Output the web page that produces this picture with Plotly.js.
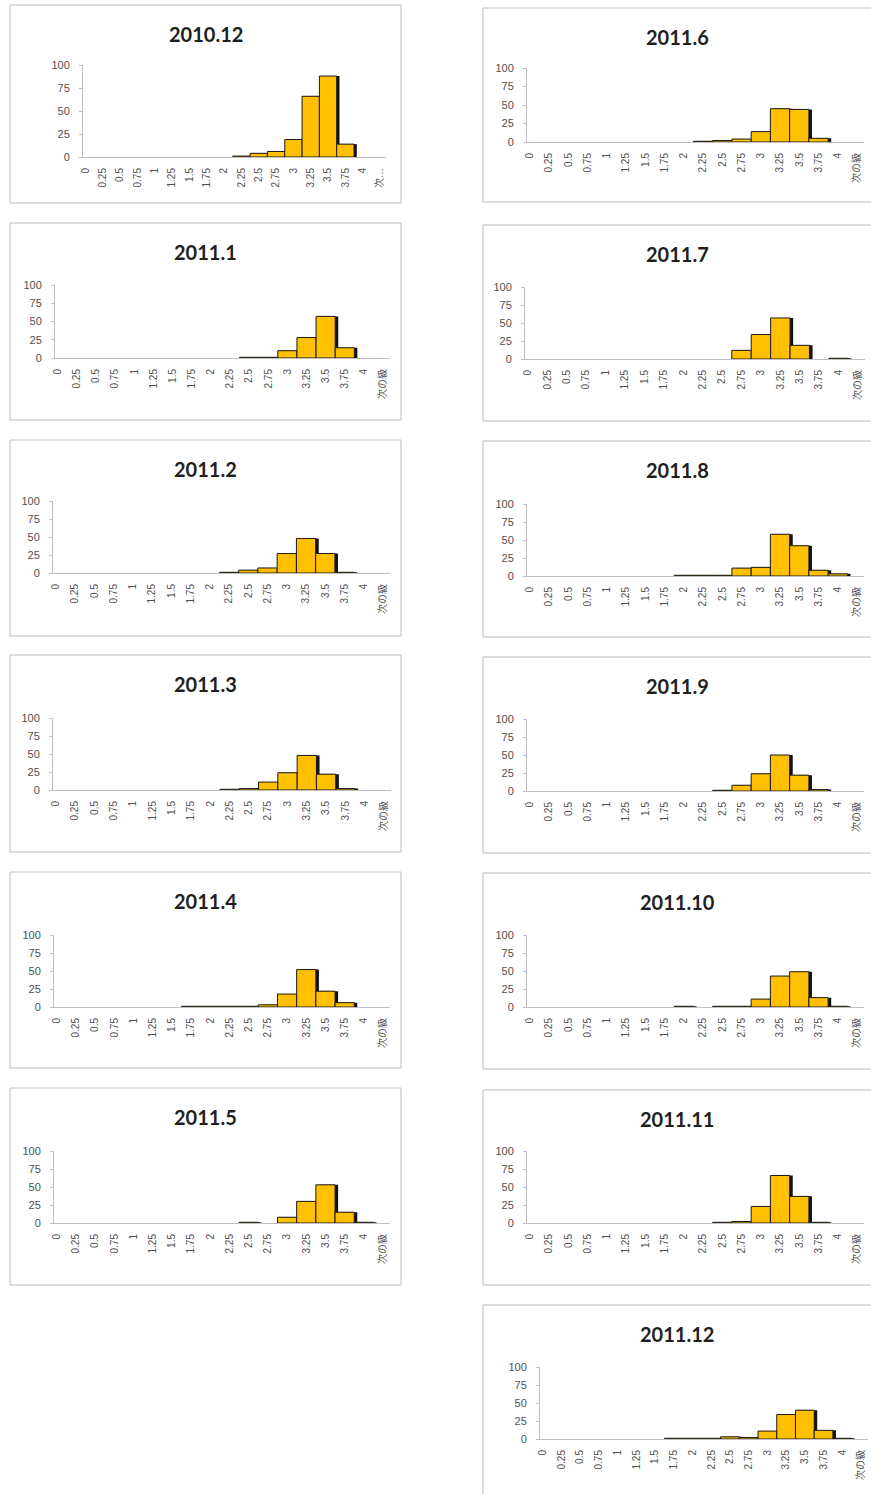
<!DOCTYPE html>
<html>
<head>
<meta charset="utf-8">
<script src="https://cdn.plot.ly/plotly-3.0.1.min.js"></script>
<style>
html,body{margin:0;padding:0;background:#fff;}
#chart{width:871px;height:1494px;}
</style>
</head>
<body>
<div id="chart"></div>
<script>
const categories = ['0','0.25','0.5','0.75','1','1.25','1.5','1.75','2','2.25','2.5','2.75','3','3.25','3.5','3.75','4','次の級'];
const yTicks = [0, 25, 50, 75, 100];

const titles = ['2010.12','2011.1','2011.2','2011.3','2011.4','2011.5',
                '2011.6','2011.7','2011.8','2011.9','2011.10','2011.11','2011.12'];

const v201012 = [0,0,0,0,0,0,0,0,0,1,4,6,19,66,88,14,0,0];
const v201101 = [0,0,0,0,0,0,0,0,0,0,1,1,10,28,57,14,0,0];
const v201102 = [0,0,0,0,0,0,0,0,0,1,4,7,27,48,27,1,0,0];
const v201103 = [0,0,0,0,0,0,0,0,0,1,2,11,24,48,22,2,0,0];
const v201104 = [0,0,0,0,0,0,0,1,1,1,1,3,18,52,22,6,0,0];
const v201105 = [0,0,0,0,0,0,0,0,0,0,1,0,8,30,53,15,1,0];
const v201106 = [0,0,0,0,0,0,0,0,0,1,2,4,14,45,44,5,0,0];
const v201107 = [0,0,0,0,0,0,0,0,0,0,0,12,34,57,19,0,1,0];
const v201108 = [0,0,0,0,0,0,0,0,1,1,1,11,12,58,42,8,3,0];
const v201109 = [0,0,0,0,0,0,0,0,0,0,1,8,24,50,22,2,0,0];
const v201110 = [0,0,0,0,0,0,0,0,1,0,1,1,11,43,49,13,1,0];
const v201111 = [0,0,0,0,0,0,0,0,0,0,1,2,23,66,37,1,0,0];
const v201112 = [0,0,0,0,0,0,0,1,1,1,3,2,11,34,40,12,1,0];

const series = [v201012,v201101,v201102,v201103,v201104,v201105,
                v201106,v201107,v201108,v201109,v201110,v201111,v201112];

// panel geometry in pixels: box [x0,y0,x1,y1], y-axis line x, last label x, y(100), y(0)
const W = 871, H = 1494;
const panels = [
  {box:[10,5,401,203],     ax:83,  last:380, yt:65,   yb:157,  trunc:true},
  {box:[10,223,401,420],   ax:55,  last:383, yt:285,  yb:358},
  {box:[10,440,401,636],   ax:53,  last:383, yt:501,  yb:573},
  {box:[10,655,401,852],   ax:53,  last:384, yt:718,  yb:790},
  {box:[10,872,401,1068],  ax:54,  last:383, yt:935,  yb:1007},
  {box:[10,1088,401,1285], ax:54,  last:383, yt:1151, yb:1223},
  {box:[483,8,873,202],    ax:527, last:857, yt:68,   yb:142},
  {box:[483,225,873,421],  ax:525, last:858, yt:287,  yb:359},
  {box:[483,441,873,637],  ax:527, last:857, yt:504,  yb:576},
  {box:[483,657,873,853],  ax:527, last:857, yt:719,  yb:791},
  {box:[483,873,873,1069], ax:527, last:857, yt:935,  yb:1007},
  {box:[483,1090,873,1285],ax:527, last:857, yt:1151, yb:1223},
  {box:[483,1305,873,1500],ax:540, last:861, yt:1367, yb:1439}
];

const data = [];
const layout = {
  width: W, height: H,
  margin: {l:0, r:0, t:0, b:0},
  paper_bgcolor: '#ffffff',
  plot_bgcolor: 'rgba(0,0,0,0)',
  showlegend: false,
  barmode: 'overlay',
  shapes: [],
  annotations: [],
  font: {family: 'Liberation Sans, Noto Sans CJK JP, sans-serif', color: '#595959'}
};

const rLo = -0.15, rHi = 17.35;
panels.forEach((p, i) => {
  const n = i === 0 ? '' : String(i + 1);
  const xa = 'x' + n, ya = 'y' + n;
  const u = (p.last - p.ax) / (17 - rLo);
  const right = p.ax + (rHi - rLo) * u;
  const vals = series[i].map(v => v === 0 ? null : v);
  // shadow (3D depth effect)
  data.push({type:'bar', x: categories, y: vals, xaxis: xa, yaxis: ya,
    width: 1, offset: -0.34, marker: {color: '#111111', line: {width: 0}},
    hoverinfo: 'skip'});
  data.push({type:'bar', x: categories, y: vals, xaxis: xa, yaxis: ya,
    width: 1, offset: -0.5, marker: {color: '#FFC000', line: {color: '#1a1a1a', width: 1}}});
  const tt = categories.map((c, k) => (p.trunc && k === 17) ? '次…' : c);
  layout['xaxis' + n] = {
    domain: [p.ax / W, right / W], anchor: ya, type: 'category',
    range: [rLo, rHi], fixedrange: true,
    tickmode: 'array', tickvals: categories, ticktext: tt, tickangle: -90,
    tickfont: {size: 10, color: '#505050', family: 'Liberation Sans, Noto Sans CJK JP, sans-serif'},
    showline: true, linecolor: '#BFBFBF', linewidth: 1,
    showgrid: false, zeroline: false, ticks: '', ticklabelstandoff: 6
  };
  layout['yaxis' + n] = {
    domain: [1 - p.yb / H, 1 - p.yt / H], anchor: xa,
    range: [0, 100], fixedrange: true,
    tickmode: 'array', tickvals: yTicks,
    tickfont: {size: 11, color: '#505050', family: 'Liberation Sans, sans-serif'},
    showline: true, linecolor: '#BFBFBF', linewidth: 1,
    showgrid: false, zeroline: false, ticks: 'outside', ticklen: 3, tickcolor: '#BFBFBF',
    ticklabelstandoff: 7
  };
  layout.shapes.push({type:'rect', xref:'paper', yref:'paper',
    x0: p.box[0] / W, x1: p.box[2] / W, y0: 1 - p.box[3] / H, y1: 1 - p.box[1] / H,
    line: {color: '#BDBDBD', width: 1}, fillcolor: 'rgba(0,0,0,0)', layer: 'below'});
  layout.annotations.push({xref:'paper', yref:'paper',
    x: ((p.box[0] + Math.min(p.box[2], 871)) / 2) / W, y: 1 - (p.box[1] + 29) / H,
    xanchor: 'center', yanchor: 'middle', showarrow: false,
    text: '<b>' + titles[i] + '</b>',
    font: {family: 'Lato, Open Sans, sans-serif', size: 20, color: '#1f1f1f'}});
});

Plotly.newPlot('chart', data, layout, {staticPlot: true, displayModeBar: false});
</script>
</body>
</html>
